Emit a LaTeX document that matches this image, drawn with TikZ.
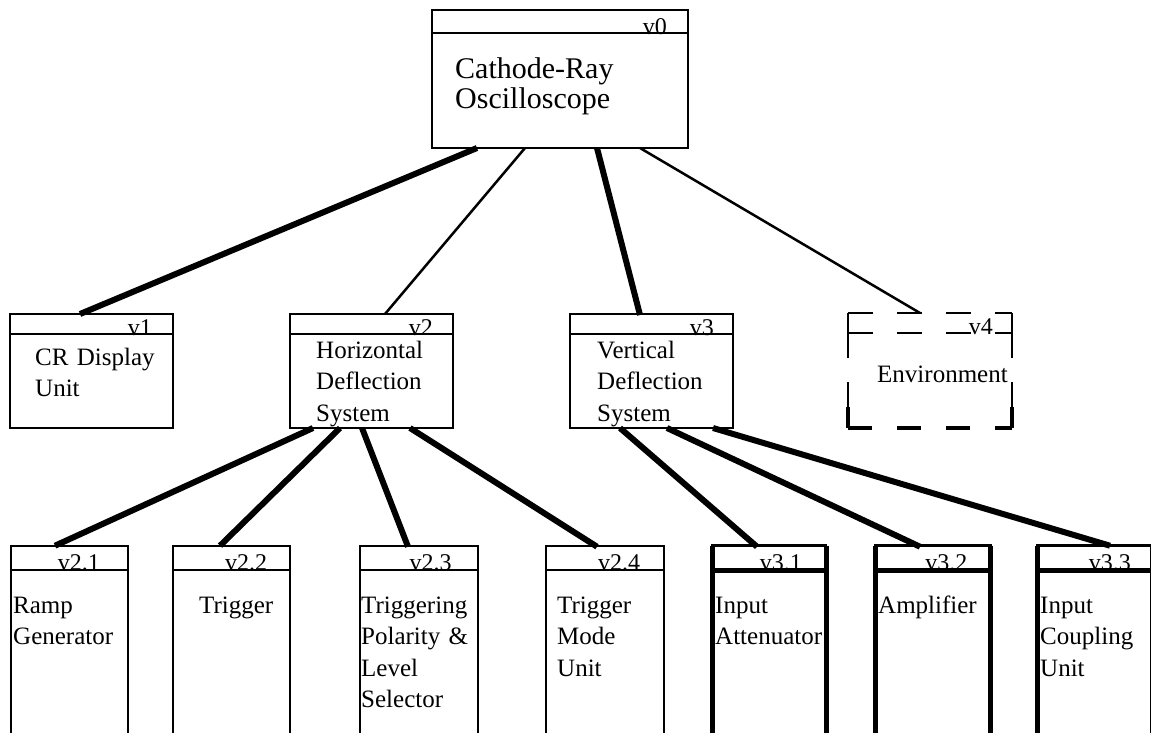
\documentclass[tikz,border=0pt]{standalone}
\usepackage{fontspec}
\setmainfont{Liberation Serif}
\usetikzlibrary{calc}
\begin{document}
\begin{tikzpicture}[x=1pt,y=-1pt,
  box/.style={draw, line width=2pt, anchor=north west, inner sep=0pt, outer sep=0pt},
  midbox/.style={box, minimum width=163pt, minimum height=114pt},
  leaf/.style={box, minimum width=117pt, minimum height=200pt},
  hdr/.style={line width=2pt},
  heavy/.style={line width=5pt},
  lbl/.style={anchor=base east, inner sep=0pt, font=\fontsize{24pt}{28pt}\selectfont},
  txt/.style={anchor=base west, inner sep=0pt, text width=220pt, align=left, font=\fontsize{25pt}{31.5pt}\selectfont},
  bigtxt/.style={txt, font=\fontsize{30pt}{30.5pt}\selectfont},
  thinlink/.style={line width=2.5pt},
  thicklink/.style={line width=6pt},
  dashseg/.style={line width=2pt, dash pattern=on 25pt off 24pt}]
\useasboundingbox (0,0) rectangle (1151,732);
\clip (0,0) rectangle (1151,732);

% ---------- boxes ----------
\node[box, minimum width=256pt, minimum height=138pt] (v0) at (432,10) {};
\node[midbox] (v1) at (10,314) {};
\node[midbox] (v2) at (290,314) {};
\node[midbox] (v3) at (570,314) {};
\node[anchor=north west, inner sep=0pt, outer sep=0pt, minimum width=164pt, minimum height=115pt] (v4) at (848,313) {};
\node[leaf] (v21) at (11,545.7) {};
\node[leaf, minimum width=117.3pt] (v22) at (173,545.7) {};
\node[leaf, minimum width=117.7pt] (v23) at (360,545.7) {};
\node[leaf, minimum width=118.3pt] (v24) at (546,545.7) {};
\node[leaf, line width=2.5pt, minimum width=113.5pt] (v31) at (712.5,545.7) {};
\node[leaf, line width=2.5pt, minimum width=115pt] (v32) at (875.5,545.7) {};
\node[leaf, line width=2.5pt, minimum width=115pt] (v33) at (1037.5,545.7) {};

% heavy sides of v3.x
\foreach \n in {v31,v32,v33}{
  \draw[heavy] (\n.north west) -- (\n.south west);
  \draw[heavy] (\n.north east) -- (\n.south east);
}

% dashed environment box
\draw[dashseg] (v4.north west) -- (v4.north east);
\draw[dashseg] ($(v4.north west)+(0,20)$) -- ($(v4.north east)+(0,20)$);
\draw[line width=2pt] (v4.north west) -- ($(v4.north west)+(0,45)$);
\draw[line width=2pt] ($(v4.north west)+(0,69)$) -- (v4.south west);
\draw[line width=4pt] ($(v4.south west)+(0,-21)$) -- (v4.south west);
\draw[line width=2pt] (v4.north east) -- ($(v4.north east)+(0,45)$);
\draw[line width=2pt] ($(v4.north east)+(0,69)$) -- (v4.south east);
\draw[line width=4pt] ($(v4.south east)+(0,-21)$) -- (v4.south east);
\draw[line width=4pt, dash pattern=on 24pt off 25pt] (v4.south west) -- (v4.south east);

% ---------- labels ----------
\node[lbl] (l0) at ($(v0.north east)+(-21,24.5)$) {v0};
\node[lbl] (l1) at ($(v1.north east)+(-21,21)$) {v1};
\node[lbl] (l2) at ($(v2.north east)+(-20,21)$) {v2};
\node[lbl] (l3) at ($(v3.north east)+(-19,21)$) {v3};
\node[lbl] (l4) at ($(v4.north east)+(-19,21)$) {v4};
\node[lbl] (l21) at ($(v21.north east)+(-28,25)$) {v2.1};
\node[lbl] (l22) at ($(v22.north east)+(-23,25)$) {v2.2};
\node[lbl] (l23) at ($(v23.north east)+(-26,25)$) {v2.3};
\node[lbl] (l24) at ($(v24.north east)+(-24,25)$) {v2.4};
\node[lbl] (l31) at ($(v31.north east)+(-24,25)$) {v3.1};
\node[lbl] (l32) at ($(v32.north east)+(-23,25)$) {v3.2};
\node[lbl] (l33) at ($(v33.north east)+(-21.5,25)$) {v3.3};

% ---------- header lines ----------
\draw[hdr] ($(v0.north west)+(0,23)$) -- ($(v0.north east)+(0,23)$);
\foreach \n in {v1,v2,v3}{
  \draw[hdr] ($(\n.north west)+(0,20)$) -- ($(\n.north east)+(0,20)$);
}
\foreach \n in {v21,v22,v23,v24}{
  \draw[hdr] ($(\n.north west)+(0,24.3)$) -- ($(\n.north east)+(0,24.3)$);
}
\foreach \n in {v31,v32,v33}{
  \draw[heavy] ($(\n.north west)+(-2.5,24.3)$) -- ($(\n.north east)+(2.5,24.3)$);
}

% ---------- texts ----------
\node[bigtxt] (t0) at (455,78) {Cathode-Ray\\Oscilloscope};
\node[txt] (t1) at (35,365) {CR Display\\Unit};
\node[txt] (t2) at (316,358) {Horizontal\\Deflection\\System};
\node[txt] (t3) at (597,358) {Vertical\\Deflection\\System};
\node[txt] (t4) at (877,382) {Environment};
\node[txt] (t21) at (13,613) {Ramp\\Generator};
\node[txt] (t22) at (199,613) {Trigger};
\node[txt] (t23) at (361,613) {Triggering\\Polarity \&\\Level\\Selector};
\node[txt] (t24) at (557,613) {Trigger\\Mode\\Unit};
\node[txt] (t31) at (715,613) {Input\\Attenuator};
\node[txt] (t32) at (878,613) {Amplifier};
\node[txt] (t33) at (1040,613) {Input\\Coupling\\Unit};

% ---------- connectors ----------
\draw[thicklink] ($(v0.south west)+(45,0)$) -- ($(v1.north west)+(70,0)$);
\draw[thinlink]  ($(v0.south west)+(93,0)$) -- ($(v2.north west)+(95,0)$);
\draw[thicklink] ($(v0.south west)+(165,0)$) -- ($(v3.north west)+(70,1)$);
\draw[thinlink]  ($(v0.south west)+(208,0)$) -- ($(v4.north west)+(72,0)$);

\draw[thicklink] ($(v2.south west)+(23,0)$) -- ($(v21.north west)+(44,0)$);
\draw[thicklink] ($(v2.south west)+(50,0)$) -- ($(v22.north west)+(47,0)$);
\draw[thicklink] ($(v2.south west)+(72,0)$) -- ($(v23.north west)+(48,1)$);
\draw[thicklink] ($(v2.south west)+(120,0)$) -- ($(v24.north west)+(51,1)$);

\draw[thicklink] ($(v3.south west)+(50,0)$) -- ($(v31.north west)+(44.5,1)$);
\draw[thicklink] ($(v3.south west)+(97,0)$) -- ($(v32.north west)+(44.5,1)$);
\draw[thicklink] ($(v3.south west)+(143,0)$) -- ($(v33.north west)+(72.5,0)$);
\end{tikzpicture}
\end{document}
